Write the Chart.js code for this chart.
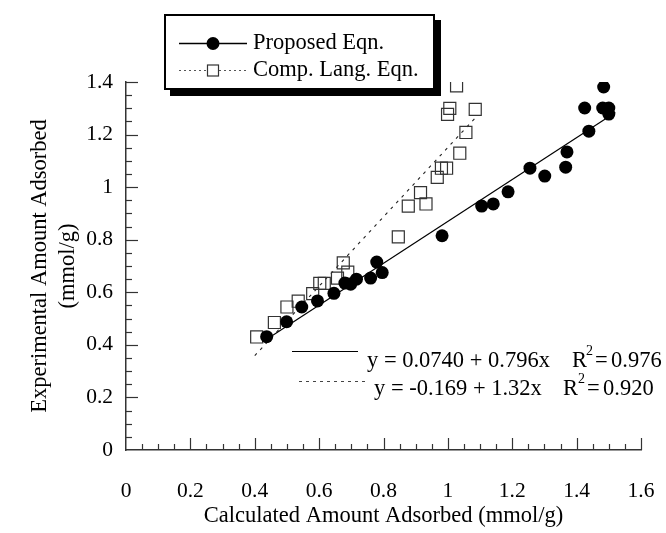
<!DOCTYPE html>
<html><head><meta charset="utf-8">
<script src="https://cdn.jsdelivr.net/npm/chart.js@4.4.0/dist/chart.umd.min.js"></script>
<style>html,body{margin:0;padding:0;background:#fff;}#wrap{width:666px;height:533px;position:relative;}</style>
</head><body><div id="wrap"><canvas id="c"></canvas></div>
<script>
// ---- data ----
const seriesNames = ['Proposed Eqn.', 'Comp. Lang. Eqn.'];
const proposedX = [0.437,0.499,0.546,0.595,0.646,0.680,0.698,0.716,0.760,0.779,0.796,0.982,1.105,1.141,1.187,1.255,1.301,1.366,1.370,1.425,1.438,1.484,1.481,1.500,1.500];
const proposedY = [0.431,0.488,0.544,0.567,0.596,0.635,0.631,0.650,0.654,0.715,0.675,0.815,0.928,0.936,0.982,1.072,1.042,1.076,1.134,1.301,1.213,1.381,1.301,1.301,1.278];
const compX = [0.406,0.461,0.500,0.535,0.580,0.602,0.616,0.657,0.675,0.689,0.846,0.877,0.915,0.932,0.967,0.980,0.996,1.037,1.056,0.999,1.006,1.027,1.085];
const compY = [0.430,0.485,0.544,0.566,0.595,0.634,0.634,0.654,0.712,0.677,0.811,0.928,0.979,0.936,1.037,1.072,1.072,1.129,1.208,1.277,1.300,1.385,1.296];
const fitProposedX = [0.43, 1.52];
const fitProposedY = [0.416, 1.284];
const fitCompX = [0.40, 1.09];
const fitCompY = [0.359, 1.270];
const fitEquations = ['y = 0.0740 + 0.796x', 'y = -0.169 + 1.32x'];
const fitR2 = ['0.976', '0.920'];
const xTitle = 'Calculated Amount Adsorbed (mmol/g)';
const yTitle = ['Experimental Amount Adsorbed', '(mmol/g)'];
const xRange = [0, 1.6], yRange = [0, 1.4];
const majorStep = 0.2, minorStep = 0.05;

const FONT = "'Liberation Serif','Times New Roman',serif";
const pts = (xs, ys) => xs.map((x, i) => ({x, y: ys[i]}));
const fmt = v => String(+v.toFixed(2));

const inwardTicks = {
  id: 'inwardTicks',
  afterDraw(chart) {
    const ctx = chart.ctx, xs = chart.scales.x, ys = chart.scales.y;
    const x0 = xs.left, y0 = ys.bottom;
    ctx.save();
    ctx.strokeStyle = '#333'; ctx.lineWidth = 1.2;
    const nx = Math.round((xRange[1] - xRange[0]) / minorStep);
    const per = Math.round(majorStep / minorStep);
    for (let i = 1; i <= nx; i++) {
      const px = Math.round(xs.getPixelForValue(xRange[0] + i * minorStep)) + 0.5;
      const len = i % per === 0 ? 12 : 6;
      ctx.beginPath(); ctx.moveTo(px, y0); ctx.lineTo(px, y0 - len); ctx.stroke();
    }
    const ny = Math.round((yRange[1] - yRange[0]) / minorStep);
    for (let i = 1; i <= ny; i++) {
      const py = Math.round(ys.getPixelForValue(yRange[0] + i * minorStep)) + 0.5;
      const len = i % per === 0 ? 12 : 6;
      ctx.beginPath(); ctx.moveTo(x0, py); ctx.lineTo(x0 + len, py); ctx.stroke();
    }
    ctx.restore();
  }
};

const legendBox = {
  id: 'legendBox',
  afterDraw(chart) {
    const ctx = chart.ctx;
    ctx.save();
    ctx.fillStyle = '#000';
    ctx.fillRect(170, 20, 271, 76);
    ctx.fillStyle = '#fff';
    ctx.fillRect(164, 14, 271, 76);
    ctx.strokeStyle = '#000'; ctx.lineWidth = 2;
    ctx.strokeRect(165, 15, 269, 74);
    ctx.lineWidth = 1.3; ctx.strokeStyle = '#000';
    ctx.beginPath(); ctx.moveTo(179, 43.5); ctx.lineTo(247, 43.5); ctx.stroke();
    ctx.beginPath(); ctx.arc(213, 43.5, 6.5, 0, Math.PI * 2); ctx.fillStyle = '#000'; ctx.fill();
    ctx.setLineDash([2, 3]); ctx.lineWidth = 1; ctx.strokeStyle = '#555';
    ctx.beginPath(); ctx.moveTo(179, 70.5); ctx.lineTo(247, 70.5); ctx.stroke();
    ctx.setLineDash([]);
    ctx.fillStyle = '#fff'; ctx.fillRect(208, 65.5, 10, 10);
    ctx.strokeStyle = '#333'; ctx.lineWidth = 1.2; ctx.strokeRect(207.5, 65, 11, 11);
    ctx.fillStyle = '#000'; ctx.font = '22.5px ' + FONT; ctx.textBaseline = 'middle'; ctx.textAlign = 'left';
    ctx.fillText(seriesNames[0], 253, 43);
    ctx.fillText(seriesNames[1], 253, 70);
    ctx.restore();
  }
};

const fitNotes = {
  id: 'fitNotes',
  afterDraw(chart) {
    const ctx = chart.ctx;
    ctx.save();
    ctx.strokeStyle = '#000'; ctx.lineWidth = 1.2;
    ctx.beginPath(); ctx.moveTo(292, 351.5); ctx.lineTo(358, 351.5); ctx.stroke();
    ctx.setLineDash([3, 4]); ctx.strokeStyle = '#444'; ctx.lineWidth = 1;
    ctx.beginPath(); ctx.moveTo(299, 381.5); ctx.lineTo(365, 381.5); ctx.stroke();
    ctx.setLineDash([]);
    ctx.fillStyle = '#000'; ctx.textBaseline = 'middle'; ctx.textAlign = 'left';
    // [eqX, y, Rx, supX, eqSignX, valueX]
    const rows = [[367, 361, 572, 586, 595, 611], [374, 389, 563, 578, 587, 603]];
    rows.forEach((r, i) => {
      ctx.font = '22.5px ' + FONT;
      ctx.fillText(fitEquations[i], r[0], r[1]);
      ctx.fillText('R', r[2], r[1]);
      ctx.fillText('=', r[4], r[1]);
      ctx.fillText(fitR2[i], r[5], r[1]);
      ctx.font = '14px ' + FONT;
      ctx.fillText('2', r[3], r[1] - 10);
    });
    ctx.restore();
  }
};

new Chart(document.getElementById('c'), {
  type: 'scatter',
  data: {
    datasets: [
      {label: seriesNames[0], data: pts(proposedX, proposedY), pointStyle: 'circle', pointRadius: 6.5,
       backgroundColor: '#000', borderColor: '#000', borderWidth: 0, order: 1},
      {label: seriesNames[1], data: pts(compX, compY), pointStyle: 'rect', pointRadius: 8.5,
       backgroundColor: 'rgba(0,0,0,0)', borderColor: '#333', borderWidth: 1.2, order: 2},
      {label: 'fit1', data: pts(fitProposedX, fitProposedY), showLine: true, pointRadius: 0,
       borderColor: '#000', borderWidth: 1.2, order: 3},
      {label: 'fit2', data: pts(fitCompX, fitCompY), showLine: true, pointRadius: 0,
       borderColor: '#222', borderWidth: 1.1, borderDash: [3, 5], order: 4}
    ]
  },
  options: {
    responsive: true, maintainAspectRatio: false, animation: false,
    layout: {padding: {top: 82, right: 25, left: 0, bottom: 0}},
    plugins: {legend: {display: false}, tooltip: {enabled: false}},
    scales: {
      x: {
        type: 'linear', min: xRange[0], max: xRange[1],
        afterFit: s => { s.height = 83; s.paddingRight = 0; s.paddingLeft = 0; },
        grid: {display: false, drawTicks: false},
        border: {display: true, color: '#333', width: 1.5},
        ticks: {stepSize: majorStep, padding: 28, color: '#000', font: {family: FONT, size: 21.5}, callback: fmt},
        title: {display: true, text: xTitle, color: '#000', font: {family: FONT, size: 22.5, lineHeight: 1.2}, padding: {top: 0, bottom: 3}}
      },
      y: {
        type: 'linear', min: yRange[0], max: yRange[1],
        afterFit: s => { s.width = 126; s.paddingTop = 0; s.paddingBottom = 0; },
        grid: {display: false, drawTicks: false},
        border: {display: true, color: '#333', width: 1.5},
        ticks: {stepSize: majorStep, padding: 13, color: '#000', font: {family: FONT, size: 21.5}, callback: fmt},
        title: {display: true, text: yTitle, color: '#000', font: {family: FONT, size: 22.5, lineHeight: 1.25}, padding: {top: 26, bottom: 0}}
      }
    }
  },
  plugins: [inwardTicks, legendBox, fitNotes]
});
</script></body></html>
